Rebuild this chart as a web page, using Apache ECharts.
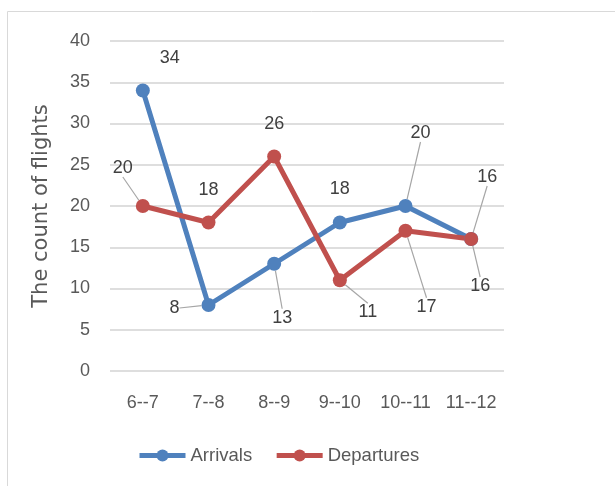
<!DOCTYPE html>
<html>
<head>
<meta charset="utf-8">
<script src="https://cdn.jsdelivr.net/npm/echarts@6/dist/echarts.min.js"></script>
<style>
  html, body { margin: 0; padding: 0; background: #fff; }
  #main { width: 615px; height: 486px; }
</style>
</head>
<body>
<div id="main"></div>
<script>
// categories (hour ranges)
var hours = ['6--7', '7--8', '8--9', '9--10', '10--11', '11--12'];
// series values
var arrivals = [34, 8, 13, 18, 20, 16];
var departures = [20, 18, 26, 11, 17, 16];
// y axis ticks
var yMin = 0, yMax = 40, yStep = 5;

// label offsets from the point (px) and whether a leader line is drawn
var arrOffsets = [[27, -32], [-34, 3], [8, 54], [0, -33], [15, -73], [16, -62]];
var arrLines = [false, true, true, false, true, true];
var depOffsets = [[-20, -38], [0, -32], [0, -32], [28, 32], [21, 76], [9, 47]];
var depLines = [true, false, false, true, true, true];

var textColor = '#595959';
var font = 'Liberation Sans';

function makeData(values, lines) {
    var out = [];
    for (var i = 0; i < values.length; i++) {
        out.push({ value: values[i], labelLine: { show: lines[i] } });
    }
    return out;
}

function makeLayout(offsets) {
    return function (params) {
        var r = params.rect;
        var o = offsets[params.dataIndex];
        return {
            x: r.x + r.width / 2 + o[0],
            y: r.y + r.height / 2 + o[1],
            align: 'center',
            verticalAlign: 'middle'
        };
    };
}

var chart = echarts.init(document.getElementById('main'));

var option = {
    animation: false,
    textStyle: { fontFamily: font, color: textColor },
    graphic: [{
        type: 'rect',
        shape: { x: 7.5, y: 11.5, width: 700, height: 600 },
        style: { fill: 'none', stroke: '#d9d9d9', lineWidth: 1 },
        silent: true
    }],
    grid: { left: 110, right: 111, top: 41, bottom: 115 },
    legend: {
        bottom: 16,
        left: 132,
        itemWidth: 46,
        itemHeight: 15,
        itemGap: 22,
        lineStyle: { width: 5 },
        textStyle: { fontSize: 18.5, color: textColor, fontFamily: font },
        data: ['Arrivals', 'Departures']
    },
    xAxis: {
        type: 'category',
        data: hours,
        boundaryGap: true,
        axisLine: { show: false },
        axisTick: { show: false },
        axisLabel: { interval: 0, margin: 23, fontSize: 18, color: textColor, fontFamily: font }
    },
    yAxis: {
        type: 'value',
        min: yMin,
        max: yMax,
        interval: yStep,
        name: 'The count of flights',
        nameLocation: 'middle',
        nameGap: 58,
        nameRotate: 90,
        nameTextStyle: { fontSize: 21, color: textColor, fontFamily: 'DejaVu Sans' },
        axisLine: { show: false },
        axisTick: { show: false },
        axisLabel: { margin: 20, fontSize: 18, color: textColor, fontFamily: font },
        splitLine: { lineStyle: { color: '#dedede', width: 2 } }
    },
    series: [
        {
            name: 'Arrivals',
            type: 'line',
            data: makeData(arrivals, arrLines),
            color: '#4F81BD',
            symbol: 'circle',
            symbolSize: 14,
            lineStyle: { width: 5, color: '#4F81BD' },
            itemStyle: { color: '#4F81BD' },
            label: { show: true, fontSize: 18, color: '#404040', fontFamily: font },
            labelLine: { show: true, lineStyle: { color: '#a6a6a6', width: 1.2 } },
            labelLayout: makeLayout(arrOffsets)
        },
        {
            name: 'Departures',
            type: 'line',
            data: makeData(departures, depLines),
            color: '#C0504D',
            symbol: 'circle',
            symbolSize: 14,
            lineStyle: { width: 5, color: '#C0504D' },
            itemStyle: { color: '#C0504D' },
            label: { show: true, fontSize: 18, color: '#404040', fontFamily: font },
            labelLine: { show: true, lineStyle: { color: '#a6a6a6', width: 1.2 } },
            labelLayout: makeLayout(depOffsets)
        }
    ]
};

chart.setOption(option);
</script>
</body>
</html>
